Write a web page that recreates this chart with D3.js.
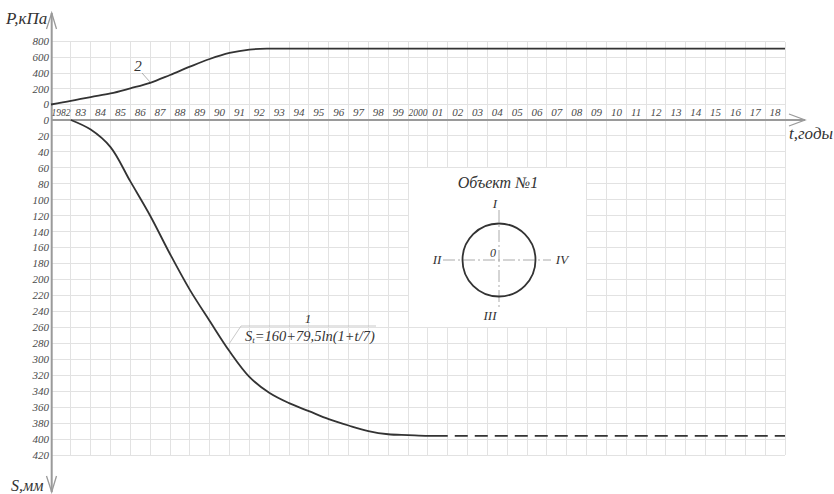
<!DOCTYPE html>
<html>
<head>
<meta charset="utf-8">
<script src="https://cdn.jsdelivr.net/npm/d3@7"></script>
<style>
  html, body { margin: 0; padding: 0; background: #fff; }
</style>
</head>
<body>
<svg id="chart" width="834" height="494"></svg>
<script>
// Year labels for each column (t = 0 is the start of 1982)
const yearLabels = ["1982","83","84","85","86","87","88","89","90","91","92","93","94","95","96","97","98","99",
  "2000","01","02","03","04","05","06","07","08","09","10","11","12","13","14","15","16","17","18"];

// Curve 2: foundation pressure P, kPa, by year offset t
const pressureT = [0, 1, 2, 3, 4, 5, 6, 7, 8, 9, 10, 11, 12, 37];
const pressureP = [0, 45, 95, 140, 205, 275, 375, 480, 578, 655, 698, 710, 710, 710];

// Curve 1: measured settlement S, mm, by year offset t
const settleT = [1, 2, 3, 4, 5, 6, 7, 8, 9, 10, 11, 12, 13, 14, 15, 16, 17, 18, 19, 20];
const settleS = [0, 12, 34, 77, 120, 168, 213, 252, 290, 322, 342, 355, 365, 375, 383, 390, 394, 395, 396, 396];

// Forecast continuation of settlement (dashed)
const forecastT = [20, 37];
const forecastS = [396, 396];

const pressureTicks = [0, 200, 400, 600, 800];
const settleTicks = d3.range(0, 421, 20);

const svg = d3.select("#chart");
const x = d3.scaleLinear().domain([0, 37]).range([51, 785]);
const yP = d3.scaleLinear().domain([0, 800]).range([104.5, 41.5]);
const yS = d3.scaleLinear().domain([0, 420]).range([120, 455]);

const gridColor = "#e2e2e2";
const axisColor = "#9a9a9a";
const inkColor = "#333";

// grid
const grid = svg.append("g").attr("stroke", gridColor).attr("stroke-width", 1).attr("shape-rendering", "crispEdges");
d3.range(1, 38).forEach(i => {
  grid.append("line").attr("x1", x(i)).attr("x2", x(i)).attr("y1", yP(800)).attr("y2", yS(420));
});
pressureTicks.forEach(v => {
  grid.append("line").attr("x1", x(0)).attr("x2", x(37)).attr("y1", yP(v)).attr("y2", yP(v));
});
settleTicks.forEach(v => {
  if (v === 0) return;
  grid.append("line").attr("x1", x(0)).attr("x2", x(37)).attr("y1", yS(v)).attr("y2", yS(v));
});

// axes
const axes = svg.append("g").attr("stroke", axisColor).attr("stroke-width", 2).attr("fill", "none");
axes.append("line").attr("x1", x(0) + 0.7).attr("x2", x(0) + 0.7).attr("y1", 13).attr("y2", 492);
axes.append("line").attr("x1", x(0)).attr("x2", 805).attr("y1", yS(0)).attr("y2", yS(0));
axes.append("path").attr("stroke-width", 1.3).attr("d", `M${x(0) - 4.5},29 L${x(0) + 0.7},13 L${x(0) + 5.5},29`);
axes.append("path").attr("stroke-width", 1.3).attr("d", `M${x(0) - 4.5},476 L${x(0) + 0.7},492 L${x(0) + 5.5},476`);
axes.append("path").attr("stroke-width", 1.3).attr("d", `M789,114 L805,120 L789,126`);

// tick labels
const tickStyle = sel => sel.attr("font-size", 11).attr("fill", "#4a4a4a");
svg.append("g").selectAll("text").data(pressureTicks).join("text")
  .call(tickStyle)
  .attr("x", 49).attr("y", d => yP(d)).attr("dy", "0.35em").attr("text-anchor", "end")
  .text(d => d);
svg.append("g").selectAll("text").data(settleTicks).join("text")
  .call(tickStyle)
  .attr("x", 49).attr("y", d => yS(d)).attr("dy", "0.35em").attr("text-anchor", "end")
  .text(d => d);
svg.append("g").selectAll("text").data(yearLabels).join("text")
  .call(tickStyle)
  .attr("x", (d, i) => x(i + 0.5)).attr("y", 116).attr("text-anchor", "middle")
  .each(function (d) {
    if (d.length > 2) d3.select(this).attr("textLength", 19).attr("lengthAdjust", "spacingAndGlyphs");
  })
  .text(d => d);

// axis titles
svg.append("text").attr("x", 6).attr("y", 24).attr("font-size", 17).attr("fill", inkColor).text("P,кПа");
svg.append("text").attr("x", 11).attr("y", 491).attr("font-size", 16).attr("fill", inkColor).text("S,мм");
svg.append("text").attr("x", 789).attr("y", 139).attr("font-size", 17).attr("fill", inkColor).text("t,годы");

// inset: object plan
const box = { x0: x(18), x1: x(27), y0: yS(60), y1: yS(260) };
svg.append("rect").attr("x", box.x0).attr("y", box.y0)
  .attr("width", box.x1 - box.x0).attr("height", box.y1 - box.y0)
  .attr("fill", "#fff").attr("stroke", gridColor).attr("shape-rendering", "crispEdges");
const cx = 499, cy = 260, r = 36.5;
const inset = svg.append("g");
inset.append("text").attr("x", 498).attr("y", 188).attr("text-anchor", "middle")
  .attr("font-size", 16).attr("fill", inkColor).text("Объект №1");
inset.append("line").attr("x1", 443).attr("x2", 551).attr("y1", cy).attr("y2", cy)
  .attr("stroke", "#aaa").attr("stroke-width", 1).attr("stroke-dasharray", "12 3 2 3");
inset.append("line").attr("x1", cx).attr("x2", cx).attr("y1", 210).attr("y2", 308)
  .attr("stroke", "#aaa").attr("stroke-width", 1).attr("stroke-dasharray", "12 3 2 3");
inset.append("circle").attr("cx", cx).attr("cy", cy).attr("r", r)
  .attr("fill", "none").attr("stroke", inkColor).attr("stroke-width", 1.8);
const romanStyle = sel => sel.attr("font-size", 13).attr("fill", inkColor).attr("text-anchor", "middle");
inset.append("text").call(romanStyle).attr("x", 495).attr("y", 208).text("I");
inset.append("text").call(romanStyle).attr("x", 437).attr("y", 264).text("II");
inset.append("text").call(romanStyle).attr("x", 562).attr("y", 264).text("IV");
inset.append("text").call(romanStyle).attr("x", 490).attr("y", 320).text("III");
inset.append("text").call(romanStyle).attr("x", 493).attr("y", 257).attr("font-size", 12).text("0");

// curves
const pressureLine = d3.line().x(d => x(d[0])).y(d => yP(d[1])).curve(d3.curveCatmullRom.alpha(0.5));
svg.append("path").datum(pressureT.map((t, i) => [t, pressureP[i]]))
  .attr("d", pressureLine).attr("fill", "none").attr("stroke", inkColor).attr("stroke-width", 1.8);

const settleLine = d3.line().x(d => x(d[0])).y(d => yS(d[1])).curve(d3.curveCatmullRom.alpha(0.5));
svg.append("path").datum(settleT.map((t, i) => [t, settleS[i]]))
  .attr("d", settleLine).attr("fill", "none").attr("stroke", inkColor).attr("stroke-width", 1.8);
svg.append("path").datum(forecastT.map((t, i) => [t, forecastS[i]]))
  .attr("d", settleLine).attr("fill", "none").attr("stroke", inkColor).attr("stroke-width", 1.8)
  .attr("stroke-dasharray", "13 7").attr("stroke-dashoffset", 13);

// curve callouts
svg.append("text").attr("x", 138).attr("y", 71).attr("text-anchor", "middle")
  .attr("font-size", 15).attr("fill", inkColor).text("2");
svg.append("line").attr("x1", 142).attr("y1", 73).attr("x2", 150).attr("y2", 82)
  .attr("stroke", "#999").attr("stroke-width", 0.8);

svg.append("path").attr("d", "M229,344 L241,326 L376,326")
  .attr("fill", "none").attr("stroke", "#bbb").attr("stroke-width", 0.8);
svg.append("text").attr("x", 308).attr("y", 323).attr("text-anchor", "middle")
  .attr("font-size", 13).attr("fill", inkColor).text("1");
const formula = svg.append("text").attr("x", 245).attr("y", 341).attr("font-size", 14.5).attr("fill", inkColor);
formula.append("tspan").text("S");
formula.append("tspan").attr("font-size", 9).attr("dy", 2).text("t");
formula.append("tspan").attr("dy", -2).text("=160+79,5ln(1+t/7)");

// all labels in italic serif
svg.selectAll("text").attr("font-family", "Liberation Serif").attr("font-style", "italic");
</script>
</body>
</html>
